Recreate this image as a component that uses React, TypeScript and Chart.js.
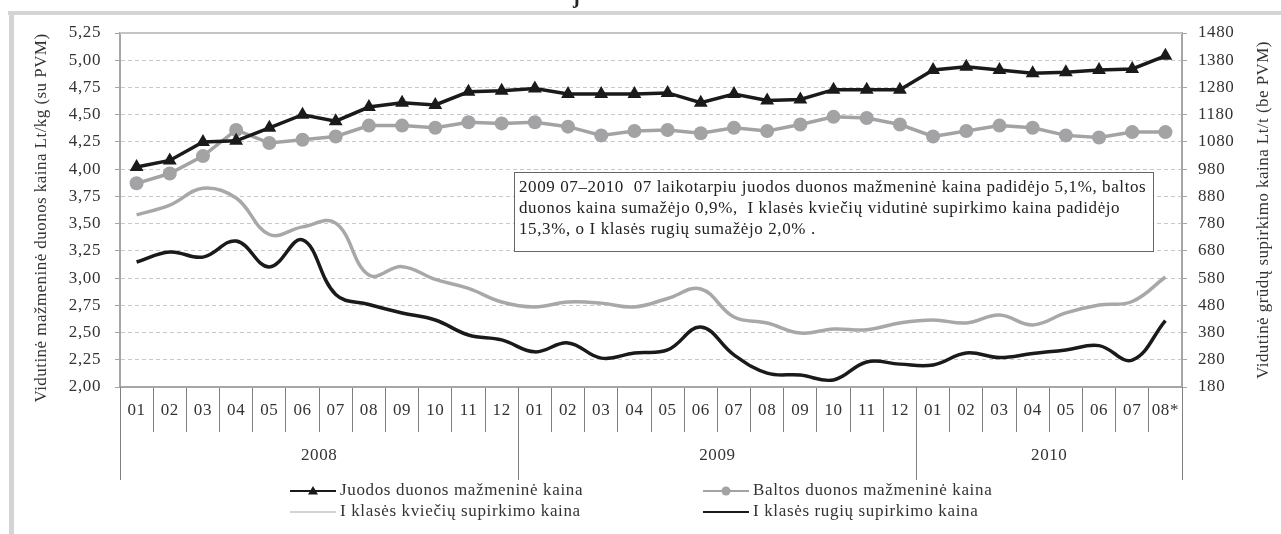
import React, { useEffect, useRef } from 'react';
import { Chart, registerables } from 'chart.js';

Chart.register(...registerables);

const months = ['01','02','03','04','05','06','07','08','09','10','11','12','01','02','03','04','05','06','07','08','09','10','11','12','01','02','03','04','05','06','07','08*'];
const years = ['2008', '2009', '2010'];
const yearSpans = [12, 12, 8];

const juodos = [4.02, 4.08, 4.25, 4.26, 4.38, 4.50, 4.44, 4.57, 4.61, 4.59, 4.71, 4.72, 4.74, 4.69, 4.69, 4.69, 4.70, 4.61, 4.69, 4.63, 4.64, 4.73, 4.73, 4.73, 4.91, 4.94, 4.91, 4.88, 4.89, 4.91, 4.92, 5.04];
const baltos = [3.87, 3.96, 4.12, 4.36, 4.24, 4.27, 4.30, 4.40, 4.40, 4.38, 4.43, 4.42, 4.43, 4.39, 4.31, 4.35, 4.36, 4.33, 4.38, 4.35, 4.41, 4.48, 4.47, 4.41, 4.30, 4.35, 4.40, 4.38, 4.31, 4.29, 4.34, 4.34];
const kvieciu = [812, 848, 910, 874, 740, 768, 782, 591, 622, 575, 542, 492, 474, 492, 488, 474, 505, 540, 437, 415, 378, 393, 390, 415, 426, 415, 444, 408, 452, 481, 494, 584];
const rugiu = [639, 676, 657, 716, 621, 720, 520, 483, 452, 426, 371, 353, 309, 342, 286, 305, 316, 400, 298, 231, 224, 206, 272, 264, 261, 305, 288, 303, 316, 332, 279, 424];

const leftTitle = 'Vidutinė mažmeninė duonos kaina Lt/kg (su PVM)';
const rightTitle = 'Vidutinė grūdų supirkimo kaina Lt/t (be PVM)';
const noteLines = [
  '2009 07–2010  07 laikotarpiu juodos duonos mažmeninė kaina padidėjo 5,1%, baltos',
  'duonos kaina sumažėjo 0,9%,  I klasės kviečių vidutinė supirkimo kaina padidėjo',
  '15,3%, o I klasės rugių sumažėjo 2,0% .',
];
const legendItems = [
  { label: 'Juodos duonos mažmeninė kaina', color: '#1a1a1a', width: 2, marker: 'triangle', col: 0, row: 0 },
  { label: 'Baltos duonos mažmeninė kaina', color: '#a3a3a5', width: 2, marker: 'circle', col: 1, row: 0 },
  { label: 'I klasės kviečių supirkimo kaina', color: '#a8a8a8', width: 1.2, marker: '', col: 0, row: 1 },
  { label: 'I klasės rugių supirkimo kaina', color: '#1a1a1a', width: 2, marker: '', col: 1, row: 1 },
];

const FONT = '"Liberation Serif", "Times New Roman", serif';
const TXT = '#333333';

const alignPx = (p: number) => Math.round(p - 0.5) + 0.5;

const decor = {
  id: 'decor',
  beforeDraw(chart: any) {
    const ctx = chart.ctx;
    ctx.save();
    ctx.fillStyle = '#ffffff';
    ctx.fillRect(0, 0, chart.width, chart.height);
    ctx.fillStyle = '#d4d4d4';
    ctx.fillRect(8, 11, chart.width - 8, 4);
    ctx.fillRect(9, 11, 5, chart.height - 11);
    ctx.fillStyle = '#222';
    ctx.font = 'bold 20px ' + FONT;
    ctx.textBaseline = 'alphabetic';
    ctx.fillText('j', 573, 3);
    ctx.restore();
    ctx.letterSpacing = '0.6px';
  },
  afterDraw(chart: any) {
    const { ctx, chartArea: ca, scales } = chart;
    const x = scales.x;
    const ln = (x1: number, y1: number, x2: number, y2: number) => {
      ctx.beginPath(); ctx.moveTo(x1, y1); ctx.lineTo(x2, y2); ctx.stroke();
    };
    ctx.save();
    ctx.letterSpacing = '0.6px';
    // top border of plot
    ctx.strokeStyle = '#c4c4c4';
    ctx.lineWidth = 2;
    ln(ca.left, ca.top, ca.right, ca.top);
    // year grouping
    const half = (x.getPixelForValue(1) - x.getPixelForValue(0)) / 2;
    ctx.strokeStyle = '#808080';
    ctx.lineWidth = 1;
    ctx.fillStyle = TXT;
    ctx.font = '17px ' + FONT;
    ctx.textAlign = 'center';
    ctx.textBaseline = 'middle';
    let idx = 0;
    const first = alignPx(x.getPixelForValue(0) - half);
    ln(first, ca.bottom, first, ca.bottom + 93);
    years.forEach((yr, i) => {
      const start = x.getPixelForValue(idx) - half;
      const end = x.getPixelForValue(idx + yearSpans[i] - 1) + half;
      const e = alignPx(end);
      ln(e, ca.bottom, e, ca.bottom + 93);
      ctx.fillText(yr, (start + end) / 2, ca.bottom + 69);
      idx += yearSpans[i];
    });
    // annotation box
    const bx = 514, by = 172, bw = 639, bh = 79;
    ctx.fillStyle = '#ffffff';
    ctx.fillRect(bx, by, bw, bh);
    ctx.strokeStyle = '#666666';
    ctx.lineWidth = 1;
    ctx.strokeRect(bx + 0.5, by + 0.5, bw, bh);
    ctx.fillStyle = '#222222';
    ctx.textAlign = 'left';
    ctx.font = '17px ' + FONT;
    noteLines.forEach((t, i) => ctx.fillText(t, bx + 5, by + 16 + i * 21));
    // axis titles
    ctx.fillStyle = TXT;
    ctx.font = '17px ' + FONT;
    ctx.textAlign = 'center';
    ctx.letterSpacing = '0.45px';
    const cy = (ca.top + ca.bottom) / 2;
    ctx.save();
    ctx.translate(42, cy + 8);
    ctx.rotate(-Math.PI / 2);
    ctx.fillText(leftTitle, 0, 0);
    ctx.restore();
    ctx.save();
    ctx.translate(1264, cy);
    ctx.rotate(-Math.PI / 2);
    ctx.fillText(rightTitle, 0, 0);
    ctx.restore();
    // legend
    ctx.letterSpacing = '0.65px';
    const colX = [290, 703];
    const rowY = [491, 512];
    ctx.textAlign = 'left';
    ctx.font = '17px ' + FONT;
    legendItems.forEach((it) => {
      const x0 = colX[it.col];
      const y0 = rowY[it.row];
      ctx.strokeStyle = it.color;
      ctx.lineWidth = it.width;
      ln(x0, y0, x0 + 46, y0);
      ctx.fillStyle = it.color;
      if (it.marker === 'circle') {
        ctx.beginPath(); ctx.arc(x0 + 23, y0, 4.5, 0, Math.PI * 2); ctx.fill();
      } else if (it.marker === 'triangle') {
        ctx.beginPath();
        ctx.moveTo(x0 + 23, y0 - 5); ctx.lineTo(x0 + 28, y0 + 3.5); ctx.lineTo(x0 + 18, y0 + 3.5);
        ctx.closePath(); ctx.fill();
      }
      ctx.fillStyle = TXT;
      ctx.fillText(it.label, x0 + 50, y0);
    });
    ctx.restore();
  },
};

export default function App() {
  const ref = useRef<HTMLCanvasElement>(null);
  useEffect(() => {
    const chart = new Chart(ref.current as HTMLCanvasElement, {
      type: 'line',
      data: {
        labels: months,
        datasets: [
          { label: 'Juodos duonos mažmeninė kaina', data: juodos, yAxisID: 'y', borderColor: '#1a1a1a', backgroundColor: '#1a1a1a', borderWidth: 3.5, pointStyle: 'triangle', pointRadius: 8, pointBorderWidth: 0, tension: 0 },
          { label: 'Baltos duonos mažmeninė kaina', data: baltos, yAxisID: 'y', borderColor: '#a3a3a5', backgroundColor: '#a3a3a5', borderWidth: 3.5, pointStyle: 'circle', pointRadius: 7, pointBorderWidth: 0, tension: 0 },
          { label: 'I klasės kviečių supirkimo kaina', data: kvieciu, yAxisID: 'y1', borderColor: '#a8a8a8', borderWidth: 3.5, pointRadius: 0, tension: 0.4 },
          { label: 'I klasės rugių supirkimo kaina', data: rugiu, yAxisID: 'y1', borderColor: '#1a1a1a', borderWidth: 3.5, pointRadius: 0, tension: 0.4 },
        ],
      },
      options: {
        responsive: false,
        animation: false,
        devicePixelRatio: 1,
        layout: { padding: { top: 33, left: 0, right: 0, bottom: 0 } },
        plugins: { legend: { display: false }, tooltip: { enabled: false } },
        scales: {
          x: {
            offset: true,
            grid: { display: true, drawOnChartArea: false, drawTicks: true, tickLength: 45, color: '#808080', offset: true },
            border: { display: true, color: '#a6a6a6', width: 2 },
            ticks: { padding: -32, color: TXT, font: { family: FONT, size: 17 }, autoSkip: false, maxRotation: 0 },
            afterFit: (s: any) => { s.height = 534 - 387; },
          },
          y: {
            position: 'left',
            min: 2, max: 5.25,
            ticks: { stepSize: 0.25, padding: 14, color: TXT, font: { family: FONT, size: 17 }, callback: (v: any) => Number(v).toFixed(2).replace('.', ',') },
            grid: { color: '#c8c8c8', tickLength: 5, tickColor: '#a6a6a6', lineWidth: 1 },
            border: { display: true, color: '#a6a6a6', width: 2, dash: [4, 3] },
            afterFit: (s: any) => { s.width = 120; },
          },
          y1: {
            position: 'right',
            min: 180, max: 1480,
            ticks: { stepSize: 100, padding: 11, color: TXT, font: { family: FONT, size: 17 }, callback: (v: any) => String(v) },
            grid: { drawOnChartArea: false, tickLength: 5, tickColor: '#a6a6a6' },
            border: { display: true, color: '#a6a6a6', width: 2 },
            afterFit: (s: any) => { s.width = 1281 - 1182; },
          },
        },
      },
      plugins: [decor],
    });
    return () => chart.destroy();
  }, []);
  return (
    <div style={{ position: 'fixed', left: 0, top: 0, width: 1281, height: 534, background: '#fff' }}>
      <canvas ref={ref} width={1281} height={534} style={{ display: 'block' }} />
    </div>
  );
}
